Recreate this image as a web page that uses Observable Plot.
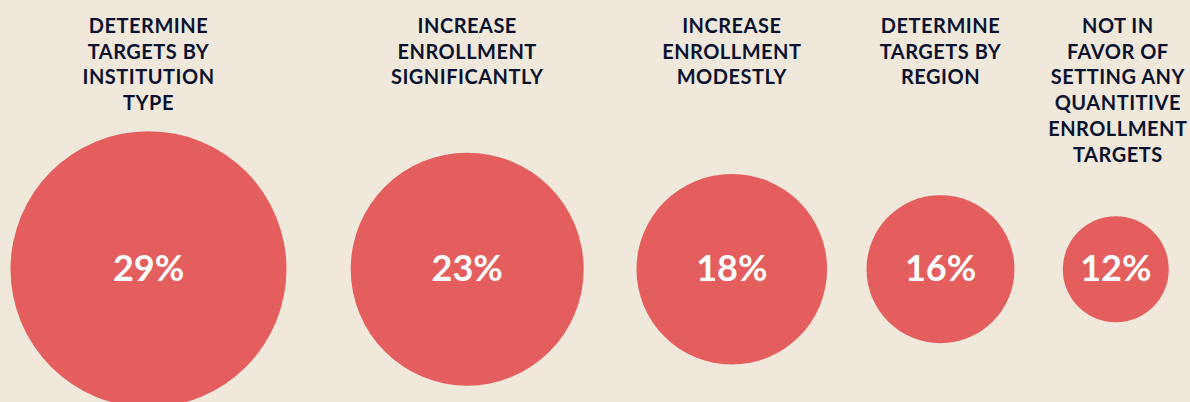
<!DOCTYPE html>
<html>
<head>
<meta charset="utf-8">
<script src="https://cdn.jsdelivr.net/npm/d3@7"></script>
<script src="https://cdn.jsdelivr.net/npm/@observablehq/plot@0.6"></script>
<style>
  html, body { margin: 0; padding: 0; background: #f0e9db; }
  #chart svg { display: block; }
  .lbl text, text.lbl, .lbl { letter-spacing: 0.5px; }
</style>
</head>
<body>
<div id="chart"></div>
<script>
// Categories (labels, in display order) and their shares
const labels = [
  "DETERMINE\nTARGETS BY\nINSTITUTION\nTYPE",
  "INCREASE\nENROLLMENT\nSIGNIFICANTLY",
  "INCREASE\nENROLLMENT\nMODESTLY",
  "DETERMINE\nTARGETS BY\nREGION",
  "NOT IN\nFAVOR OF\nSETTING ANY\nQUANTITIVE\nENROLLMENT\nTARGETS"
];
const values = [29, 23, 18, 16, 12];

const data = labels.map((label, i) => ({ index: i, label, value: values[i], text: values[i] + "%" }));

const font = "Lato, 'Open Sans', 'DejaVu Sans', sans-serif";

const labelOpts = {
  x: "index", text: "label", frameAnchor: "top", lineAnchor: "top", dy: 14,
  lineHeight: 1.29, fill: "#0b1230", fontSize: 20, fontWeight: 700, fontFamily: font,
  className: "lbl"
};

const chart = Plot.plot({
  width: 1190,
  height: 402,
  margin: 0,
  style: { background: "#f0e9db", fontFamily: font },
  x: { type: "linear", domain: [0, 1, 2, 3, 4], range: [148, 466.7, 731.3, 940, 1115.3], axis: null },
  r: { type: "linear", domain: [12, 16, 18, 23, 29], range: [53, 74, 95.3, 116.5, 138] },
  marks: [
    Plot.dot(data, { x: "index", r: "value", fill: "#e35e5c", stroke: "none", frameAnchor: "middle", dy: 67.7 }),
    Plot.text(data, {
      x: "index", text: "text", frameAnchor: "middle", dy: 67.7,
      fill: "#ffffff", fontSize: 36, fontWeight: 700, fontFamily: font
    }),
    Plot.text(data, { ...labelOpts, filter: d => d.index < 4 }),
    Plot.text(data, { ...labelOpts, filter: d => d.index === 4, dx: 2 })
  ]
});

document.getElementById("chart").appendChild(chart);
</script>
</body>
</html>
